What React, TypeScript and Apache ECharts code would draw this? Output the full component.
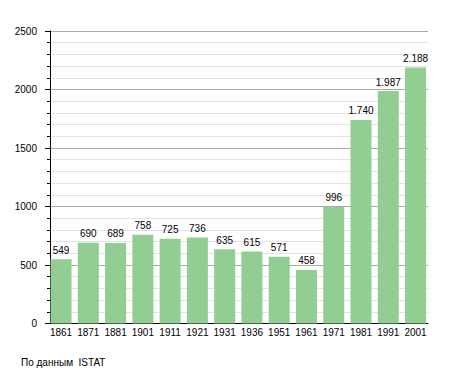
import React, { useEffect, useRef } from "react";
import * as echarts from "echarts";

const years = ["1861", "1871", "1881", "1901", "1911", "1921", "1931", "1936", "1951", "1961", "1971", "1981", "1991", "2001"];
const population = [549, 690, 689, 758, 725, 736, 635, 615, 571, 458, 996, 1740, 1987, 2188];
const yTicks = { min: 0, max: 2500, interval: 500 };
const sourceNote = "По данным  ISTAT";

const FONT = "'Liberation Sans', Arial, sans-serif";

function fmt(v: number): string {
  return String(v).replace(/\B(?=(\d{3})+(?!\d))/g, ".");
}

export default function App() {
  const ref = useRef<HTMLDivElement>(null);
  useEffect(() => {
    if (!ref.current) return;
    const chart = echarts.init(ref.current, undefined, { renderer: "svg" });
    chart.setOption({
      animation: false,
      backgroundColor: "#ffffff",
      grid: [
        { left: 50, top: 31, width: 378, bottom: 49.5, containLabel: false },
        { left: 47.4, top: 31, width: 381.8, bottom: 49.5, containLabel: false },
      ],
      xAxis: [
        {
          gridIndex: 0,
          type: "category",
          data: years,
          axisLine: { show: true, lineStyle: { color: "#000", width: 1 } },
          axisTick: { show: false },
          axisLabel: { show: false },
          splitLine: { show: false },
        },
        {
          gridIndex: 1,
          type: "category",
          data: years,
          axisLine: { show: false },
          axisTick: { show: false },
          axisLabel: { show: true, interval: 0, color: "#000", fontSize: 10, fontFamily: FONT, margin: 4 },
          splitLine: { show: false },
        },
      ],
      yAxis: [
        {
          gridIndex: 0,
          type: "value",
          min: yTicks.min,
          max: yTicks.max,
          interval: yTicks.interval,
          axisLine: { show: true, lineStyle: { color: "#000", width: 1 } },
          axisTick: { show: true, length: 5, lineStyle: { color: "#000" } },
          minorTick: { show: true, splitNumber: 5, length: 3, lineStyle: { color: "#000" } },
          axisLabel: { color: "#000", fontSize: 10, fontFamily: FONT, margin: 13, formatter: (v: number) => String(v) },
          splitLine: { show: true, lineStyle: { color: "#aaaaaa", width: 1 } },
          minorSplitLine: { show: true, lineStyle: { color: "#e3e3e3", width: 1 } },
        },
        {
          gridIndex: 1,
          type: "value",
          min: yTicks.min,
          max: yTicks.max,
          interval: yTicks.interval,
          show: false,
          splitLine: { show: false },
        },
      ],
      series: [
        {
          type: "bar",
          xAxisIndex: 0,
          yAxisIndex: 0,
          data: [],
          silent: true,
        },
        {
          type: "bar",
          xAxisIndex: 1,
          yAxisIndex: 1,
          data: population,
          barWidth: 21,
          itemStyle: { color: "#92ce92" },
          label: {
            show: true,
            position: "top",
            distance: 4,
            color: "#000",
            fontSize: 10,
            fontFamily: FONT,
            formatter: (p: any) => fmt(p.value),
          },
        },
      ],
      graphic: [
        {
          type: "text",
          left: 21,
          top: 357,
          style: { text: sourceNote, fill: "#000", fontSize: 10, fontFamily: FONT },
        },
      ],
    });
    return () => chart.dispose();
  }, []);
  return (
    <div
      ref={ref}
      style={{ position: "fixed", left: 0, top: 0, width: 455, height: 373 }}
    />
  );
}
